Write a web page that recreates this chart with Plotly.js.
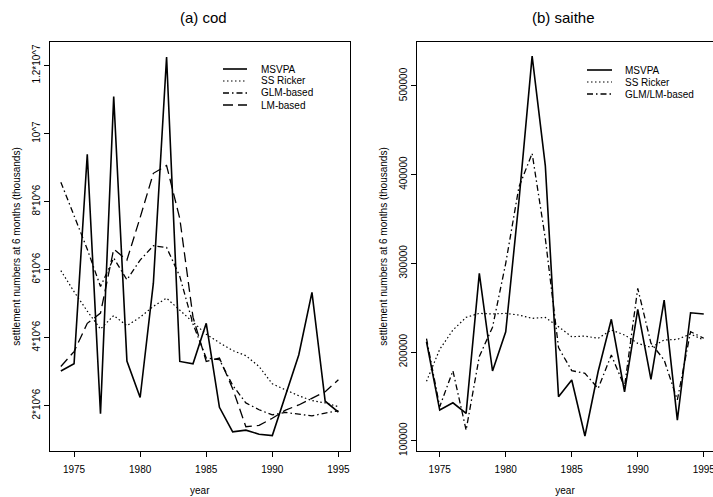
<!DOCTYPE html>
<html>
<head>
<meta charset="utf-8">
<script src="https://cdn.plot.ly/plotly-3.0.1.min.js"></script>
<style>html,body{margin:0;padding:0;background:#fff;}#chart{width:713px;height:497px;}</style>
</head>
<body>
<div id="chart"></div>
<script>
// ---- data ----
var years = [1974,1975,1976,1977,1978,1979,1980,1981,1982,1983,1984,1985,1986,1987,1988,1989,1990,1991,1992,1993,1994,1995];

// (a) cod, settlement numbers at 6 months (thousands)
var codMSVPA   = [3.02e6,3.23e6,9.39e6,1.76e6,11.09e6,3.31e6,2.24e6,5.6e6,12.25e6,3.30e6,3.23e6,4.42e6,1.95e6,1.23e6,1.28e6,1.16e6,1.12e6,2.3e6,3.49e6,5.33e6,2.13e6,1.81e6];
var codRicker  = [5.97e6,5.35e6,4.78e6,4.25e6,4.65e6,4.35e6,4.6e6,4.92e6,5.16e6,4.8e6,4.45e6,4.1e6,3.85e6,3.62e6,3.47e6,3.15e6,2.64e6,2.46e6,2.29e6,2.15e6,2.08e6,1.97e6];
var codGLM     = [8.57e6,7.6e6,6.6e6,5.5e6,6.34e6,5.7e6,6.28e6,6.7e6,6.65e6,5.8e6,4.4e6,3.4e6,3.35e6,2.6e6,2.08e6,1.88e6,1.73e6,1.8e6,1.76e6,1.7e6,1.78e6,1.85e6];
var codLM      = [3.15e6,3.59e6,4.42e6,4.72e6,6.6e6,6.28e6,7.53e6,8.83e6,9.06e6,7.5e6,4.6e6,3.3e6,3.4e6,2.5e6,1.38e6,1.42e6,1.63e6,1.87e6,2.02e6,2.22e6,2.41e6,2.76e6];

// (b) saithe
var saiMSVPA   = [211600,134600,142800,130900,288700,178600,222900,370000,533700,410000,149600,168400,105300,178000,236900,155200,248100,169200,258600,123300,244300,242900];
var saiRicker  = [167000,203000,224800,239100,243600,242900,243600,241700,238000,239000,228500,217300,218000,215500,224800,219200,209800,205300,213500,214300,220300,213500];
var saiGLMLM   = [215000,138300,178900,112000,195000,228000,300000,386000,424000,328000,205000,179000,176000,159000,196600,160900,271800,210000,191000,146000,223000,215500];

var codNames = ["MSVPA","SS Ricker","GLM-based","LM-based"];
var saiNames = ["MSVPA","SS Ricker","GLM/LM-based"];
var panelTitles = ["(a) cod","(b) saithe"];
var xTicks = [1975,1980,1985,1990,1995];
var codYTicks = [2e6,4e6,6e6,8e6,1e7,1.2e7];
var codYTickText = ["2*10^6","4*10^6","6*10^6","8*10^6","10^7","1.2*10^7"];
var saiYTicks = [100000,200000,300000,400000,500000];
var saiYTickText = ["100000","200000","300000","400000","500000"];
var yTitle = "settlement numbers at 6 months (thousands)";
var xTitle = "year";

// ---- styles ----
var FONT = "Liberation Sans, Arial, Helvetica, sans-serif";
var styles = [
  {dash:"solid", width:1.6},
  {dash:"1.5px,2.5px", width:1.2},
  {dash:"6px,3px,1.5px,3px", width:1.3},
  {dash:"10px,5px", width:1.3}
];
var saiStyles = [styles[0], styles[1], styles[2]];

var W = 713, H = 497, ML = 50, MR = 0, MT = 42, MB = 46;
var PW = W - ML - MR, PH = H - MT - MB;
function px(x){ return (x - ML) / PW; }
function py(y){ return 1 - (y - MT) / PH; }

var traces = [];
[codMSVPA, codRicker, codGLM, codLM].forEach(function(s, i){
  traces.push({x: years, y: s, type: "scatter", mode: "lines", name: codNames[i],
    xaxis: "x", yaxis: "y", showlegend: false,
    line: {color: "#000", dash: styles[i].dash, width: styles[i].width}});
});
[saiMSVPA, saiRicker, saiGLMLM].forEach(function(s, i){
  traces.push({x: years, y: s, type: "scatter", mode: "lines", name: saiNames[i],
    xaxis: "x2", yaxis: "y2", showlegend: false,
    line: {color: "#000", dash: saiStyles[i].dash, width: saiStyles[i].width}});
});

// manual legends (compact R-style)
var shapes = [], annotations = [];
function addLegend(names, sty, x0, x1, xt, y0){
  names.forEach(function(n, i){
    var yy = y0 + i * 12;
    shapes.push({type: "line", xref: "paper", yref: "paper", x0: px(x0), x1: px(x1), y0: py(yy), y1: py(yy),
      line: {color: "#000", width: sty[i].width, dash: sty[i].dash}});
    annotations.push({xref: "paper", yref: "paper", x: px(xt), y: py(yy), xanchor: "left", yanchor: "middle",
      text: n, showarrow: false, font: {family: FONT, size: 10, color: "#000"}});
  });
}
addLegend(codNames, styles, 223, 247, 259, 69);
addLegend(saiNames, saiStyles, 587, 612, 623, 70);

annotations.push({xref: "paper", yref: "paper", x: px(203), y: py(17), xanchor: "center", yanchor: "middle",
  text: panelTitles[0], showarrow: false, font: {family: FONT, size: 15, color: "#000"}});
annotations.push({xref: "paper", yref: "paper", x: px(563), y: py(17), xanchor: "center", yanchor: "middle",
  text: panelTitles[1], showarrow: false, font: {family: FONT, size: 15, color: "#000"}});

var axCommon = {showline: true, linecolor: "#000", linewidth: 1, ticks: "outside", ticklen: 5,
  tickcolor: "#000", tickwidth: 1, showgrid: false, zeroline: false,
  tickfont: {family: FONT, size: 10, color: "#000"}};

function ax(extra){ var o = JSON.parse(JSON.stringify(axCommon)); for (var k in extra) o[k] = extra[k]; return o; }

var layout = {
  width: W, height: H,
  margin: {l: ML, r: MR, t: MT, b: MB},
  paper_bgcolor: "#fff", plot_bgcolor: "#fff",
  font: {family: FONT, size: 10, color: "#000"},
  showlegend: false,
  xaxis: ax({domain: [0, px(349.5)], range: [1973.18, 1995.84], tickvals: xTicks, mirror: true, anchor: "y",
    ticklabelstandoff: 4, ticklabeloverflow: "allow",
    title: {text: xTitle, font: {family: FONT, size: 10}, standoff: 12}}),
  yaxis: ax({domain: [0, 1], range: [0.667e6, 12.69e6], tickvals: codYTicks, ticktext: codYTickText,
    tickangle: -90, mirror: true, anchor: "x",
    title: {text: yTitle, font: {family: FONT, size: 10}, standoff: 8}}),
  xaxis2: ax({domain: [px(417), 1], range: [1973.28, 1995.7], tickvals: xTicks, mirror: true, anchor: "y2",
    ticklabelstandoff: 4, ticklabeloverflow: "allow",
    title: {text: xTitle, font: {family: FONT, size: 10}, standoff: 12}}),
  yaxis2: ax({domain: [0, 1], range: [88400, 549600], tickvals: saiYTicks, ticktext: saiYTickText,
    tickangle: -90, mirror: false, anchor: "x2",
    title: {text: yTitle, font: {family: FONT, size: 10}, standoff: 8}}),
  shapes: shapes,
  annotations: annotations
};

Plotly.newPlot("chart", traces, layout, {staticPlot: true, displayModeBar: false});
</script>
</body>
</html>
